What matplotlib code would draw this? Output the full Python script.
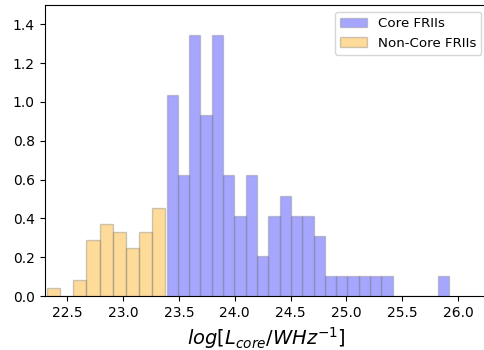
import numpy as np
import matplotlib
matplotlib.use("Agg")
import matplotlib.pyplot as plt

# ── Data (density heights) ────────────────────────────────────────────────────
core_range = (23.39, 25.92)
core_heights = [1.034, 0.622, 1.345, 0.931, 1.345, 0.622, 0.414, 0.622, 0.208,
                0.414, 0.517, 0.414, 0.414, 0.311, 0.103, 0.103, 0.103, 0.103,
                0.103, 0.103, 0.0, 0.0, 0.0, 0.0, 0.103]

noncore_range = (22.32, 23.377)
noncore_heights = [0.043, 0.0, 0.081, 0.290, 0.373, 0.332, 0.249, 0.332, 0.455]

core_edges = np.linspace(*core_range, len(core_heights) + 1)
noncore_edges = np.linspace(*noncore_range, len(noncore_heights) + 1)

# ── Plot ──────────────────────────────────────────────────────────────────────
fig = plt.figure(figsize=(4.85, 3.5), dpi=100)
# axes run slightly past the right edge (reference image is cropped there)
ax = fig.add_axes([0.092, 0.154, 0.914, 0.832])

ax.hist(core_edges[:-1], bins=core_edges, weights=core_heights,
        color="blue", alpha=0.35, edgecolor="gray", linewidth=1,
        label="Core FRIIs")
ax.hist(noncore_edges[:-1], bins=noncore_edges, weights=noncore_heights,
        color="orange", alpha=0.4, edgecolor="gray", linewidth=1,
        label="Non-Core FRIIs")

ax.set_xlim(22.298, 26.267)
ax.set_ylim(0, 1.5)
ax.set_xticks([22.5, 23.0, 23.5, 24.0, 24.5, 25.0, 25.5, 26.0])
ax.set_yticks([0.0, 0.2, 0.4, 0.6, 0.8, 1.0, 1.2, 1.4])
ax.tick_params(labelsize=10)
ax.set_xlabel(r"$log[L_{core}/WHz^{-1}]$", fontsize=14)
ax.legend(loc="upper right", fontsize=9.6)

fig.savefig("out.png", dpi=100)
